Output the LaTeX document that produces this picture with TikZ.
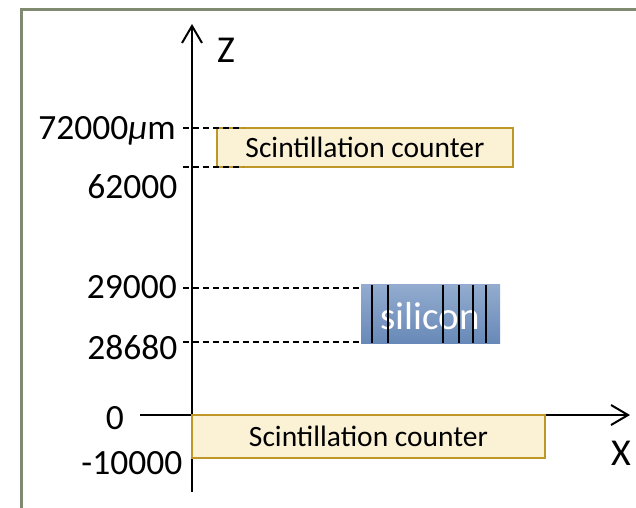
\documentclass[tikz,border=0pt]{standalone}
\usepackage{fontspec}
\setmainfont{Carlito}
\usetikzlibrary{arrows.meta}
\definecolor{framec}{RGB}{128,138,112}
\definecolor{scfill}{RGB}{251,242,213}
\definecolor{scdraw}{RGB}{191,150,40}
\definecolor{sitop}{RGB}{147,172,207}
\definecolor{sibot}{RGB}{104,137,184}
\tikzset{
  axisline/.style={line width=2pt, -{Straight Barb[length=17pt,width=20pt,line width=2pt]}},
  guide/.style={line width=1.2pt, dash pattern=on 6pt off 4pt},
  scbox/.style={draw=scdraw, line width=2.2pt, fill=scfill, inner sep=0pt,
    font=\fontsize{29.5}{29.5}\selectfont},
  ticklabel/.style={inner sep=0pt, anchor=base east, font=\fontsize{35.5}{35.5}\selectfont},
  axislabel/.style={inner sep=0pt, anchor=base west, font=\fontsize{38}{38}\selectfont},
  silayer/.style={line width=1.2pt, black},
}
\begin{document}
\begin{tikzpicture}[x=1pt,y=-1pt]
\useasboundingbox (0,0) rectangle (636,507);
\begin{scope}
\clip (0,0) rectangle (636,507);
\fill[white] (0,0) rectangle (636,507);
\draw[framec, line width=2.5pt] (21.5,520) -- (21.5,9.5) -- (650,9.5);
\end{scope}

% axes
\coordinate (zb) at (192,492);
\coordinate (zt) at (192,24);
\coordinate (xl) at (140,415);
\coordinate (xr) at (630,415);
\draw[axisline] (zb) -- (zt);
\draw[axisline] (xl) -- (xr);
\node[axislabel] (zlab) at (217,62) {Z};
\node[axislabel] (xlab) at (611,465) {X};

% tick labels
\node[ticklabel] (t72) at (176,139) {72000{\itshape μ}m};
\node[ticklabel] (t62) at (177.5,198) {62000};
\node[ticklabel] (t29) at (177,298.5) {29000};
\node[ticklabel] (t28) at (177.5,359) {28680};
\node[ticklabel] (t0) at (124,429) {0};
\node[ticklabel] (tm) at (182.5,474) {-10000};

% top scintillation counter
\node[scbox, minimum width=296pt, minimum height=39pt] (sc1) at (365,147.5) {Scintillation counter};
% bottom scintillation counter
\node[scbox, minimum width=353pt, minimum height=43pt] (sc2) at (368.5,436.5) {Scintillation counter};

% silicon
\shade[top color=sitop, bottom color=sibot] (361,284) rectangle (500,343);
\node[inner sep=0pt, text=white, font=\fontsize{39}{39}\selectfont] (si) at (430,316) {silicon};
\foreach \xx in {372,388,443,459,473,486}
  \draw[silayer] (\xx,284.5) -- (\xx,343);
\coordinate (sitl) at (362,288);
\coordinate (sibl) at (362,342);

% guide lines
\coordinate (g72) at (183,128);
\coordinate (g62) at (183,167);
\coordinate (g29) at (183,288);
\coordinate (g28) at (183,342);
\draw[guide] (g72) -- (243,128);
\draw[guide] (g62) -- (243,167);
\draw[guide] (g29) -- (sitl);
\draw[guide] (g28) -- (sibl);
\end{tikzpicture}
\end{document}
